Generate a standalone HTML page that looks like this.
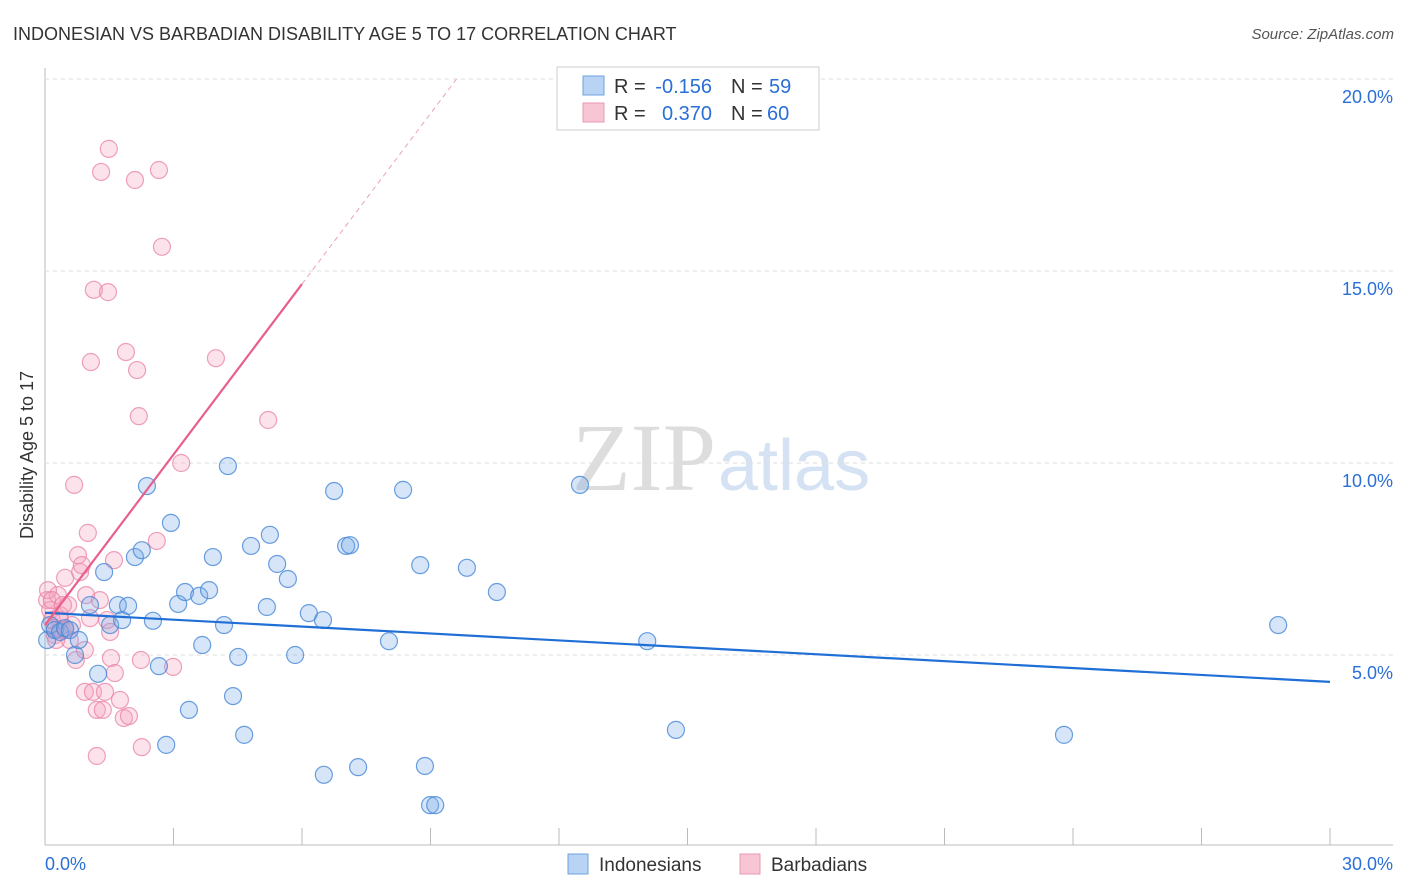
<!DOCTYPE html>
<html><head><meta charset="utf-8"><style>
body{margin:0;background:#fff;font-family:"Liberation Sans",sans-serif}
svg{display:block}
</style></head><body>
<svg id="c" width="1406" height="892">
<text x="13" y="40" font-size="18" fill="#333">INDONESIAN VS BARBADIAN DISABILITY AGE 5 TO 17 CORRELATION CHART</text>
<text x="1394" y="39" font-size="15" fill="#555" text-anchor="end" font-style="italic">Source: ZipAtlas.com</text>
<text x="716" y="490" font-size="96" fill="#ddd" text-anchor="end" font-family="Liberation Serif">ZIP</text>
<text x="718" y="490" font-size="72" fill="#d4e2f4">atlas</text>
<text transform="translate(33,455) rotate(-90)" font-size="18" fill="#333" text-anchor="middle">Disability Age 5 to 17</text>
<g id="grid"></g><g id="marks"></g>
<g>
<rect x="557" y="67" width="262" height="63" fill="#fff" stroke="#ccc"/>
<rect x="583" y="76" width="21" height="19" fill="#b8d3f3" stroke="#6ea3e0"/>
<rect x="583" y="103" width="21" height="19" fill="#f8c5d5" stroke="#e89ab3"/>
<text x="614" y="93" font-size="20" fill="#333">R =</text>
<text x="712" y="93" font-size="20" fill="#2a6fd6" text-anchor="end">-0.156</text>
<text x="731" y="93" font-size="20" fill="#333">N =</text>
<text x="769" y="93" font-size="20" fill="#2a6fd6">59</text>
<text x="614" y="120" font-size="20" fill="#333">R =</text>
<text x="712" y="120" font-size="20" fill="#2a6fd6" text-anchor="end">0.370</text>
<text x="731" y="120" font-size="20" fill="#333">N =</text>
<text x="767" y="120" font-size="20" fill="#2a6fd6">60</text>
</g>
<g>
<rect x="568" y="854" width="20" height="20" fill="#b8d3f3" stroke="#6ea3e0"/>
<text x="599" y="871" font-size="19" fill="#333">Indonesians</text>
<rect x="740" y="854" width="20" height="20" fill="#f8c5d5" stroke="#e89ab3"/>
<text x="771" y="871" font-size="19" fill="#333">Barbadians</text>
</g>
</svg>
<script>
const xTicks=[0,3,6,9,12,15,18,21,24,27,30];
const yTicks=[5,10,15,20];
const blueX=[0.05,0.12,0.23,0.35,0.47,0.58,0.70,0.79,1.05,1.24,1.38,1.52,1.70,1.80,1.94,2.10,2.26,2.38,2.52,2.66,2.83,2.94,3.11,3.27,3.36,3.60,3.67,3.83,3.92,4.18,4.27,4.39,4.51,4.65,4.81,5.18,5.25,5.42,5.67,5.84,6.16,6.49,6.51,6.75,7.03,7.12,7.31,8.03,8.36,8.76,8.87,8.99,9.11,9.85,10.55,12.49,14.06,14.73,23.79,28.79];
const blueY=[5.39,5.78,5.65,5.60,5.70,5.65,5.0,5.39,6.30,4.51,7.16,5.78,6.30,5.91,6.28,7.55,7.73,9.40,5.89,4.71,2.66,8.44,6.33,6.64,3.57,6.54,5.26,6.69,7.55,5.78,9.92,3.93,4.95,2.92,7.84,6.25,8.13,7.37,6.98,5.0,6.09,5.91,1.88,9.27,7.84,7.86,2.08,5.36,9.30,7.34,2.11,1.09,1.09,7.27,6.64,9.43,5.36,3.05,2.92,5.78];
const pinkX=[0.05,0.12,0.16,0.23,0.30,0.35,0.40,0.47,0.54,0.63,0.68,0.72,0.77,0.82,0.86,0.96,1.00,1.05,1.07,0.93,1.12,1.14,1.21,1.21,1.31,1.35,1.40,1.45,1.47,1.49,1.52,1.54,1.61,1.63,1.84,1.89,1.96,2.10,2.15,2.19,2.24,2.26,2.61,2.66,2.73,2.99,3.18,3.99,5.21,0.35,0.47,0.23,0.58,0.07,0.16,0.26,0.42,0.93,1.75,1.28];
const pinkY=[6.43,6.17,5.91,5.52,6.56,6.04,5.65,7.01,6.30,5.78,9.43,4.87,7.60,7.16,7.34,6.56,8.18,5.96,12.63,4.04,4.04,14.51,3.57,2.37,17.58,3.57,4.04,5.91,14.45,18.18,5.60,4.92,7.47,4.53,3.36,12.89,3.41,17.37,12.42,11.22,4.87,2.60,7.97,17.63,15.63,4.69,10.0,12.73,11.12,5.91,5.65,5.70,5.39,6.69,6.43,5.39,6.30,5.13,3.83,6.43];
const blueTrend=[6.1,4.3];
const pinkTrend=[5.78,1.48];
const X=v=>45+v*1285/30, Y=v=>847-v*38.4;
const NS="http://www.w3.org/2000/svg";
function mk(t,a,p){const e=document.createElementNS(NS,t);for(const k in a)e.setAttribute(k,a[k]);p.appendChild(e);return e;}
const g=document.getElementById('grid'),m=document.getElementById('marks');
let ax=mk('line',{x1:45,y1:68,x2:45,y2:845,stroke:'#bbb'},g);


let bx=mk('line',{x1:45,y1:845,x2:1393,y2:845,stroke:'#bbb'},g);


yTicks.forEach(v=>{
 const l=mk('line',{x1:45,y1:Y(v),x2:1393,y2:Y(v),stroke:'#ddd','stroke-dasharray':'4,4'},g);
 
 
 const t=mk('text',{x:1393,y:Y(v)+24,'font-size':18,fill:'#2a6fd6','text-anchor':'end'},g);t.textContent=v.toFixed(1)+'%';
 
 
});
xTicks.forEach(v=>{
 const l=mk('line',{x1:X(v),y1:828,x2:X(v),y2:845,stroke:'#bbb'},g);
 
 
});
[[0,45,'start'],[30,1393,'end']].forEach(([v,x,a])=>{
 const t=mk('text',{x:x,y:870,'font-size':18,fill:'#2a6fd6','text-anchor':a},g);t.textContent=v.toFixed(1)+'%';
 
 
});
pinkX.forEach((x,i)=>{
 const c=mk('circle',{cx:X(x),cy:Y(pinkY[i]),r:8.5,fill:'rgba(244,160,188,0.3)',stroke:'rgba(232,130,165,0.75)','stroke-width':1.2},m);
 
 
});
blueX.forEach((x,i)=>{
 const c=mk('circle',{cx:X(x),cy:Y(blueY[i]),r:8.5,fill:'rgba(120,170,232,0.3)',stroke:'rgba(70,135,215,0.8)','stroke-width':1.2},m);
 
 
});
const bl=mk('line',{x1:X(0),y1:Y(blueTrend[0]),x2:X(30),y2:Y(blueTrend[1]),stroke:'#1f6fd6','stroke-width':2.2},m);


const pl=mk('line',{x1:X(0),y1:Y(pinkTrend[0]),x2:X(6),y2:Y(pinkTrend[0]+pinkTrend[1]*6),stroke:'#e8608a','stroke-width':2.2},m);


const xe=(20-pinkTrend[0])/pinkTrend[1];
const pd=mk('line',{x1:X(6),y1:Y(pinkTrend[0]+pinkTrend[1]*6),x2:X(xe),y2:Y(20),stroke:'#eaa0b8','stroke-width':1,'stroke-dasharray':'5,4'},m);


</script>
</body></html>
